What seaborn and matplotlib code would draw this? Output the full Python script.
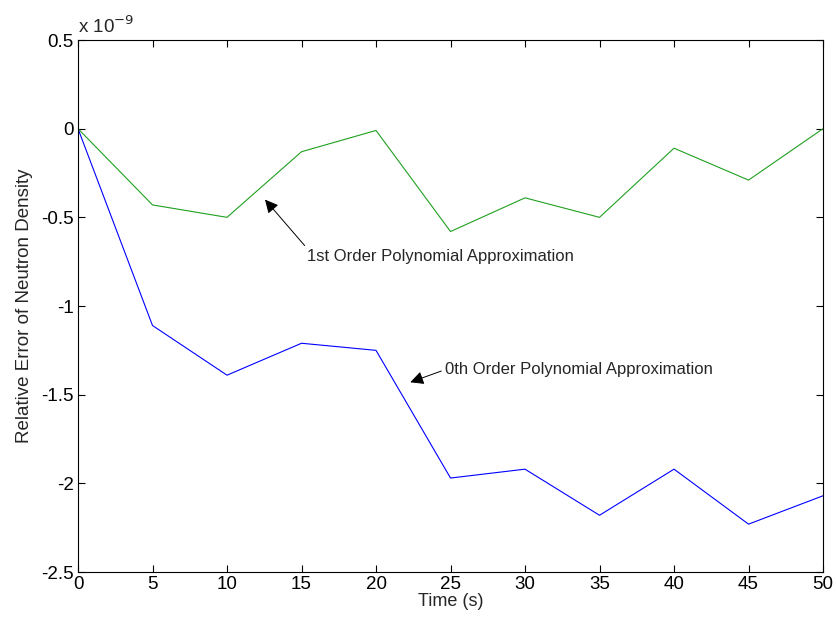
import numpy as np
import pandas as pd
import matplotlib
matplotlib.use("Agg")
import matplotlib.pyplot as plt
import seaborn as sns

# time points (s)
time_s = [0, 5, 10, 15, 20, 25, 30, 35, 40, 45, 50]
# relative error, in units of 1e-9
err_first_order = [0.0, -0.43, -0.50, -0.13, -0.01, -0.58, -0.39, -0.50, -0.11, -0.29, 0.0]
err_zeroth_order = [0.0, -1.11, -1.39, -1.21, -1.25, -1.97, -1.92, -2.18, -1.92, -2.23, -2.07]

df = pd.DataFrame({
    "t": time_s * 2,
    "err": err_first_order + err_zeroth_order,
    "series": ["1st"] * len(time_s) + ["0th"] * len(time_s),
})

sns.set_style("ticks")
plt.rcParams["font.family"] = ["Liberation Sans", "DejaVu Sans"]

fig = plt.figure(figsize=(8.37, 6.32), dpi=100)
ax = fig.add_axes([0.0932, 0.0949, 0.8901, 0.8418])

sns.lineplot(data=df, x="t", y="err", hue="series",
             palette={"1st": "#20a020", "0th": "#0000ff"},
             linewidth=0.8, legend=False, ax=ax)

ax.set_xlim(0, 50)
ax.set_ylim(-2.5, 0.5)
ax.set_xticks(np.arange(0, 51, 5))
ax.set_yticks(np.arange(-2.5, 0.51, 0.5))
ax.set_yticklabels(["-2.5", "-2", "-1.5", "-1", "-0.5", "0", "0.5"])
ax.tick_params(direction="in", length=5, width=0.8, labelsize=13.5,
               top=True, right=True, colors="black", pad=3)
for s in ax.spines.values():
    s.set_visible(True)
    s.set_linewidth(0.8)
    s.set_color("black")

ax.set_xlabel("Time (s)", fontsize=13, labelpad=0)
ax.set_ylabel("Relative Error of Neutron Density", fontsize=13.5, labelpad=6)

ax.text(0.0, 1.005, r"x 10$^{-9}$", transform=ax.transAxes, fontsize=13.5,
        ha="left", va="bottom")

ax.annotate("1st Order Polynomial Approximation", xy=(12.55, -0.40),
            xytext=(15.4, -0.72), fontsize=12, va="center", ha="left",
            arrowprops=dict(arrowstyle="-|>", color="black", lw=0.7,
                            mutation_scale=20, shrinkA=0, shrinkB=0,
                            relpos=(0.0, 1.0)))
ax.annotate("0th Order Polynomial Approximation", xy=(22.3, -1.43),
            xytext=(24.6, -1.36), fontsize=12, va="center", ha="left",
            arrowprops=dict(arrowstyle="-|>", color="black", lw=0.7,
                            mutation_scale=20, shrinkA=0, shrinkB=0,
                            relpos=(0.0, 0.5)))

fig.savefig("out.png", dpi=100)
